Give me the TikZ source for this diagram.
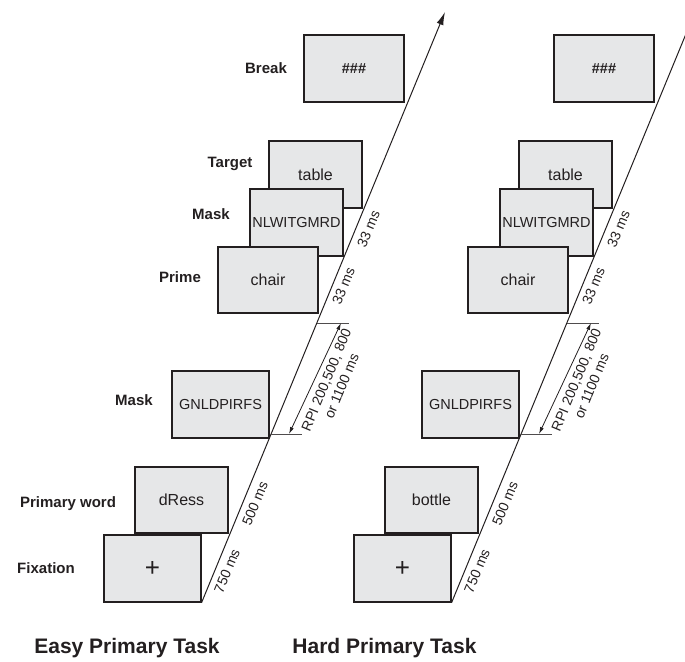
\documentclass[tikz,border=0pt]{standalone}
\usepackage{fontspec}
\setmainfont{Liberation Sans}
\usetikzlibrary{arrows.meta}

\definecolor{screengray}{RGB}{230,231,232}
\definecolor{inkgray}{RGB}{35,31,32}

\begin{document}
\begin{tikzpicture}[x=1pt,y=-1pt,
  screen/.style={draw=inkgray,fill=screengray,line width=1.2pt,inner sep=0pt,
    minimum height=67pt,font=\fontsize{16}{18}\selectfont,text=inkgray},
  caps/.style={font=\fontsize{14.5}{16}\selectfont},
  tag/.style={font=\bfseries\fontsize{15}{18}\selectfont,text=inkgray},
  dur/.style={font=\fontsize{14}{16.5}\selectfont,text=inkgray,rotate=67.5,
    align=center,inner sep=0pt},
  title/.style={font=\bfseries\fontsize{21}{25}\selectfont,text=inkgray},
  timeline/.style={draw=inkgray,line width=1pt,-{Latex[length=13pt,width=7pt]}},
  tick/.style={draw=inkgray!80,line width=0.8pt},
  span/.style={draw=inkgray,line width=0.8pt,
    {Latex[length=7pt,width=4pt]}-{Latex[length=7pt,width=4pt]}}]
  \useasboundingbox (0,0) rectangle (685,661);
  \clip (0,0) rectangle (685,661);

  % one trial sequence per task
  \foreach \dx/\pw/\p in {0/dRess/e, 250/bottle/h} {
    \begin{scope}[shift={(\dx,0)}]
      \node[screen,minimum width=100pt] (brk\p) at (354,68.5) {\fontsize{14.5}{16}\selectfont\textbf{\#\#\#}};
      \node[screen,minimum width=93pt] (tgt\p) at (315.5,174.5) {table};
      \node[screen,caps,minimum width=93pt] (msk\p) at (296.5,222.5) {NLWITGMRD};
      \node[screen,minimum width=100pt,minimum height=66pt] (prm\p) at (268,280) {chair};
      \node[screen,caps,minimum width=97pt] (gnl\p) at (220.5,404.5) {GNLDPIRFS};
      \node[screen,minimum width=93pt,minimum height=66pt] (pw\p) at (181.5,500) {\pw};
      \node[screen,minimum width=97pt] (fix\p) at (152.5,568.5) {\fontsize{26}{26}\selectfont +};

      \coordinate (tip\p) at (445,12);
      \draw[timeline] (fix\p.south east) -- (tip\p);

      \coordinate (hiax\p) at (317,323);
      \coordinate (hi\p) at (349,323);
      \coordinate (loax\p) at (270,434);
      \coordinate (lo\p) at (302,434);
      \draw[tick] (hiax\p) -- (hi\p);
      \draw[tick] (loax\p) -- (lo\p);
      \coordinate (hitip\p) at (341,323);
      \coordinate (lotip\p) at (289,434);
      \draw[span] (lotip\p) -- (hitip\p);

      \node[dur] (d750\p) at (227,571) {750 ms};
      \node[dur] (d500\p) at (255,503.5) {500 ms};
      \node[dur] (rpi\p) at (334,383) {RPI 200,500, 800\\or 1100 ms};
      \node[dur] (dpa\p) at (343.5,286) {33 ms};
      \node[dur] (dpb\p) at (368.5,229) {33 ms};
    \end{scope}
  }

  \node[tag] (lbrk) at (266,68) {Break};
  \node[tag] (ltgt) at (230,164) {Target};
  \node[tag] (lmsk) at (211,214) {Mask};
  \node[tag] (lprm) at (180,277) {Prime};
  \node[tag] (lgnl) at (134,400) {Mask};
  \node[tag] (lpw) at (68,504) {Primary word};
  \node[tag] (lfix) at (46,568) {Fixation};

  \node[title] (easy) at (127,648) {Easy Primary Task};
  \node[title] (hard) at (384.5,648) {Hard Primary Task};
\end{tikzpicture}
\end{document}
